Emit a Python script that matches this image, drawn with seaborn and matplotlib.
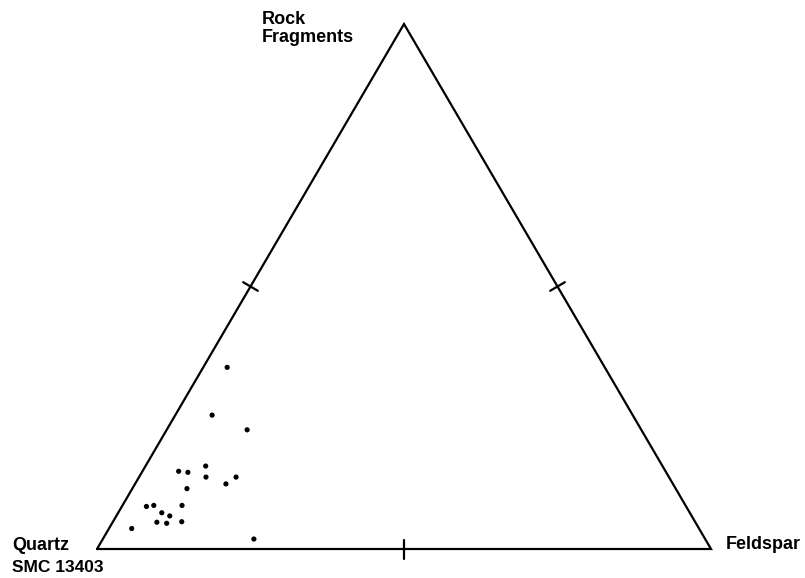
import numpy as np
import pandas as pd
import matplotlib
matplotlib.use("Agg")
import matplotlib.pyplot as plt
import seaborn as sns

# Ternary data (percent): rock fragments, feldspar; quartz = remainder
rock_fragments = [34.6, 25.5, 22.7, 15.8, 14.8, 14.6, 13.7, 13.7, 12.4, 11.5,
                  8.1, 8.3, 8.3, 6.9, 6.3, 5.1, 4.9, 5.2, 3.9, 1.9]
feldspar = [3.9, 6.0, 13.1, 9.8, 5.9, 7.5, 10.9, 15.8, 14.8, 8.9,
            4.0, 5.1, 9.7, 7.1, 8.7, 7.2, 8.9, 11.2, 3.7, 24.6]
quartz = [100 - r - f for r, f in zip(rock_fragments, feldspar)]
apex_labels = ["Quartz", "Feldspar", "Rock\nFragments"]
sample_label = "SMC 13403"

df = pd.DataFrame({"RF": rock_fragments, "F": feldspar, "Q": quartz})
tot = df["RF"] + df["F"] + df["Q"]
df["x"] = df["F"] / tot + 0.5 * df["RF"] / tot
df["y"] = df["RF"] / tot

sns.set_theme(style="white")
plt.rcParams["font.family"] = ["Liberation Sans", "DejaVu Sans"]
plt.rcParams["text.color"] = "black"

W, H = 805, 578
fig = plt.figure(figsize=(W / 100, H / 100), dpi=100)
ax = fig.add_axes([0, 0, 1, 1])
x0, yb, L, Ht = 97.0, 549.0, 614.0, 525.0
ax.set_xlim(-x0 / L, (W - x0) / L)
ax.set_ylim((yb - H) / Ht, yb / Ht)
ax.axis("off")

lw = 1.6
corners = np.array([[0, 0], [1, 0], [0.5, 1], [0, 0]])
ax.plot(corners[:, 0], corners[:, 1], color="black", lw=lw, solid_joinstyle="miter")

# mid-side ticks (perpendicular, in pixel space)
def tick(p, q, half=8.5):
    mx, my = (p[0] + q[0]) / 2, (p[1] + q[1]) / 2
    dxp, dyp = (q[0] - p[0]) * L, (q[1] - p[1]) * Ht
    n = np.hypot(dxp, dyp)
    nx, ny = -dyp / n, dxp / n
    ax.plot([mx - nx * half / L, mx + nx * half / L],
            [my - ny * half / Ht, my + ny * half / Ht], color="black", lw=lw)

tick((0, 0), (1, 0), half=9.5)
tick((0, 0), (0.5, 1))
tick((1, 0), (0.5, 1))

sns.scatterplot(data=df, x="x", y="y", ax=ax, color="black", s=14,
                edgecolor="none", legend=False, zorder=3)

def px(xp, yp):
    return (xp - x0) / L, (yb - yp) / Ht

fs = 13
kw = dict(fontsize=fs, fontweight="bold", ha="left", va="baseline", color="black")
ax.text(*px(12, 550), apex_labels[0], **kw)
ax.text(*px(12, 572), sample_label, **{**kw, "fontsize": fs - 0.5})
ax.text(*px(726, 549), apex_labels[1], **kw)
rf_lines = apex_labels[2].split("\n")
ax.text(*px(262, 24), rf_lines[0], **kw)
ax.text(*px(262, 42), rf_lines[1], **kw)

fig.savefig("out.png", dpi=100, facecolor="white")
